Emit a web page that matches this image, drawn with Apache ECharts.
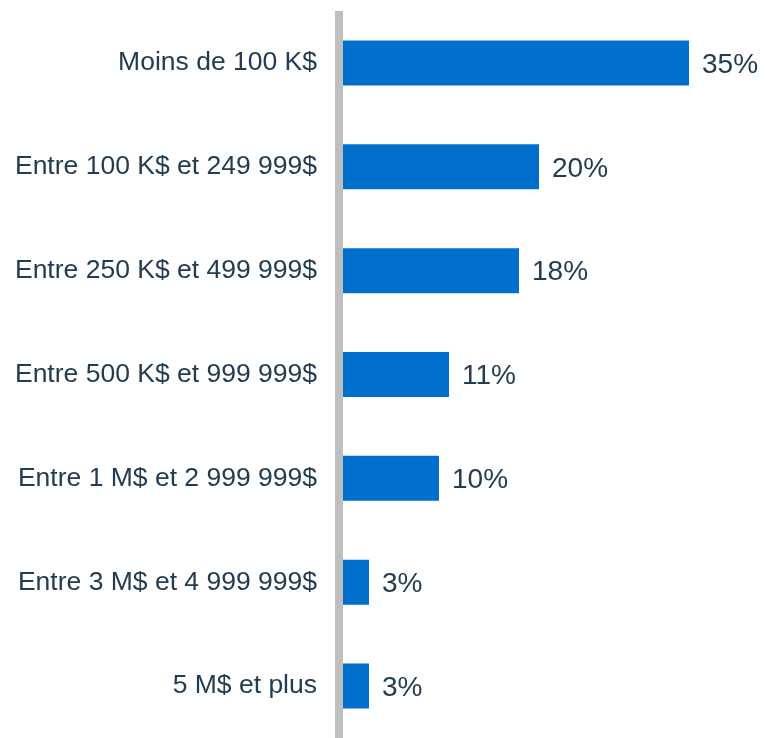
<html>
    <head>
        <meta charset="utf-8">
        <script src="https://cdn.jsdelivr.net/npm/echarts@6/dist/echarts.min.js"></script>
        <style>
            html, body { margin: 0; padding: 0; background: #fff; }
            #chart { width: 765px; height: 738px; }
        </style>
    </head>
    <body>
        <div id="chart"></div>
        <script>
        var categories = [
            'Moins de 100 K$',
            'Entre 100 K$ et 249 999$',
            'Entre 250 K$ et 499 999$',
            'Entre 500 K$ et 999 999$',
            'Entre 1 M$ et 2 999 999$',
            'Entre 3 M$ et 4 999 999$',
            '5 M$ et plus'
        ];
        var shares = [35, 20, 18, 11, 10, 3, 3];

        var textColor = '#233c53';
        var font = '"Liberation Sans", Arial, sans-serif';

        var myChart = echarts.init(document.getElementById('chart'));

        var option = {
            animation: false,
            grid: {
                left: 339,
                top: 11,
                width: 420,
                height: 731
            },
            xAxis: {
                type: 'value',
                min: 0,
                max: 42,
                show: false
            },
            yAxis: {
                type: 'category',
                data: categories,
                inverse: true,
                z: 5,
                axisLine: {
                    lineStyle: { color: '#bfbfbf', width: 8, cap: 'butt' }
                },
                axisTick: { show: false },
                axisLabel: {
                    margin: 22,
                    padding: [4, 0, 0, 0],
                    fontFamily: font,
                    fontSize: 26.5,
                    color: textColor
                }
            },
            series: [{
                type: 'bar',
                data: shares,
                barWidth: 45,
                itemStyle: { color: '#0070cc' },
                label: {
                    show: true,
                    position: 'right',
                    distance: 13,
                    offset: [0, 2],
                    formatter: '{c}%',
                    fontFamily: font,
                    fontSize: 28,
                    color: textColor
                }
            }]
        };

        myChart.setOption(option);
        </script>
    </body>
</html>
